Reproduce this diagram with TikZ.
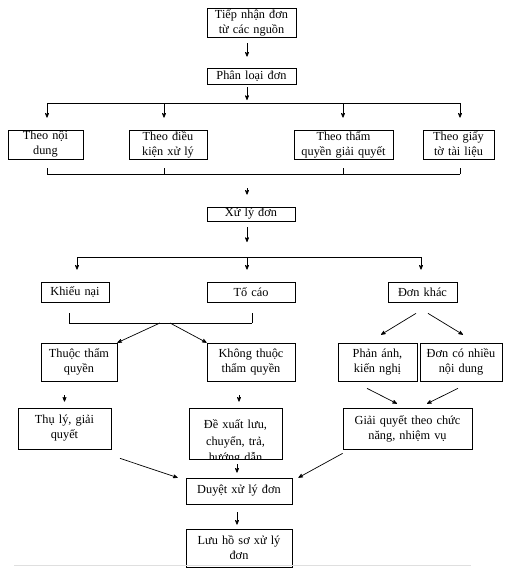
\documentclass[tikz,border=0pt]{standalone}
\usepackage{fontspec}
\setmainfont{Liberation Serif}
\usetikzlibrary{shapes,arrows}
\usetikzlibrary{positioning}

\begin{document}
\begin{tikzpicture}[x=1pt,y=-1pt,>=stealth',line width=0.7pt,font=\fontsize{12.3}{15}\selectfont,
    box node/.style={rectangle,draw,inner sep=0pt,align=center},
    box size/.style 2 args={minimum width=#1pt,text width=#1pt,minimum height=#2pt}]
		\useasboundingbox (0,0) rectangle (510,571);

		\node[box node, box size={89}{29}] (recv) at (251.5,22.5) {Tiếp nhận đơn\\ từ các nguồn};
		\node[box node, box size={89}{16}] (classify) at (251.5,76) {Phân loại đơn};
		\node[box node, box size={75}{29}] (content) at (45.5,144.5) {Theo nội\\ dung};
		\node[box node, box size={78}{29}] (cond) at (168,144.5) {Theo điều\\ kiện xử lý};
		\node[box node, box size={99}{29}] (auth) at (343.5,144.5) {Theo thẩm\\ quyền giải quyết};
		\node[box node, box size={71}{29}] (docs) at (458.5,144.5) {Theo giấy\\ tờ tài liệu};
		\node[box node, box size={88}{14}] (handle) at (251,214) {Xử lý đơn};
		\node[box node, box size={68}{20}] (complaint) at (75,292) {Khiếu nại};
		\node[box node, box size={88}{20}] (denounce) at (251,292) {Tố cáo};
		\node[box node, box size={69}{20}] (other) at (422.5,292) {Đơn khác};
		\node[box node, box size={76}{38}] (inauth) at (79,362) {Thuộc thẩm\\ quyền};
		\node[box node, box size={88}{38}] (notauth) at (251,362) {Không thuộc\\ thẩm quyền};
		\node[box node, box size={79}{38}] (feedback) at (377.5,362) {Phản ánh,\\ kiến nghị};
		\node[box node, box size={82}{38}] (multi) at (461,362) {Đơn có nhiều\\ nội dung};
		\node[box node, box size={93}{41}] (accept) at (64.5,428.5) {Thụ lý, giải\\ quyết};
		\node[box node, box size={93}{51}] (propose) at (235.5,433.5) {};
		\begin{scope}
			\clip (propose.south west) rectangle (propose.north east);
			\node[anchor=base, text width=93pt, align=center, inner sep=0pt,
			      font=\fontsize{12.3}{16.5}\selectfont] (proposetext) at (235.5,428.5) {Đề xuất lưu,\\ chuyển, trả,\\ hướng dẫn};
		\end{scope}
		\node[box node, box size={129}{41}] (resolve) at (407.5,428.5) {Giải quyết theo chức\\ năng, nhiệm vụ};
		\node[box node, box size={106}{26}] (review) at (239,491) {Duyệt xử lý đơn};
		\node[box node, box size={106}{38}] (archive) at (239,548) {Lưu hồ sơ xử lý\\ đơn};

		% branch points
		\coordinate (top1) at (47,103);
		\coordinate (top2) at (164,103);
		\coordinate (top3) at (343,103);
		\coordinate (top4) at (460,103);
		\coordinate (topmid) at (247,103);
		\coordinate (bot1) at (47,174);
		\coordinate (bot4) at (460,174);
		\coordinate (botmid) at (247,174);
		\coordinate (mid1) at (77,257);
		\coordinate (midmid) at (247,257);
		\coordinate (mid3) at (421,257);
		\coordinate (brk1) at (69,323);
		\coordinate (brk2) at (252,323);
		\coordinate (brkl) at (160,323);
		\coordinate (brkr) at (170,323);

		\draw (top1) -- (top4);
		\draw (bot1) -- (bot4);
		\draw (mid1) -- (mid3);
		\draw (brk1) -- (brk2);
		\path[shorten >=9pt]
			(bot1) edge (content.south -| bot1)
			(bot1 -| top2) edge (cond.south -| top2)
			(bot1 -| top3) edge (auth.south -| top3)
			(bot4) edge (docs.south -| bot4);
		\path[shorten >=11pt]
			(brk1) edge (complaint.south -| brk1)
			(brk2) edge (denounce.south -| brk2);

		\path[->]
			(recv.south -| topmid) edge [shorten <=6pt, shorten >=11pt] (classify.north -| topmid)
			(classify.south -| topmid) edge [shorten <=3pt, shorten >=3pt] (topmid)
			(top1) edge [shorten >=12pt] (content.north -| top1)
			(top2) edge [shorten >=12pt] (cond.north -| top2)
			(top3) edge [shorten >=12pt] (auth.north -| top3)
			(top4) edge [shorten >=12pt] (docs.north -| top4)
			(botmid) edge [shorten <=14pt, shorten >=12pt] (handle.north -| botmid)
			(handle.south -| midmid) edge [shorten <=6pt, shorten >=15pt] (midmid)
			(mid1) edge [shorten >=12pt] (complaint.north -| mid1)
			(midmid) edge [shorten >=12pt] (denounce.north -| midmid)
			(mid3) edge [shorten >=12pt] (other.north -| mid3)
			(brkl) edge (inauth.north east)
			(brkr) edge (notauth.north west)
			([xshift=-6.5pt,yshift=-11pt]other.south) edge ([xshift=3.5pt,yshift=8pt]feedback.north)
			([xshift=5.5pt,yshift=-11pt]other.south) edge ([xshift=2pt,yshift=8pt]multi.north)
			(inauth.south -| accept.north) edge [shorten <=14pt, shorten >=6pt] (accept.north)
			([xshift=3.5pt]notauth.south -| propose.north) edge [shorten <=14pt, shorten >=6pt] ([xshift=3.5pt]propose.north)
			([xshift=-10.5pt,yshift=-7pt]feedback.south) edge ([xshift=-10.5pt,yshift=4pt]resolve.north)
			([xshift=-3pt,yshift=-7pt]multi.south) edge ([xshift=19.5pt,yshift=4pt]resolve.north)
			([xshift=55.5pt,yshift=-9pt]accept.south) edge ([xshift=-8pt]review.north west)
			([xshift=1.5pt,yshift=-5pt]propose.south) edge ([xshift=-2pt,yshift=5pt]review.north)
			([yshift=-4pt]resolve.south west) edge ([xshift=6pt]review.north east)
			([xshift=-2pt]review.south) edge [shorten <=8pt, shorten >=4pt] ([xshift=-2pt]archive.north);

		\draw[gray!25] (14,565) -- (471,565);
\end{tikzpicture}
\end{document}
